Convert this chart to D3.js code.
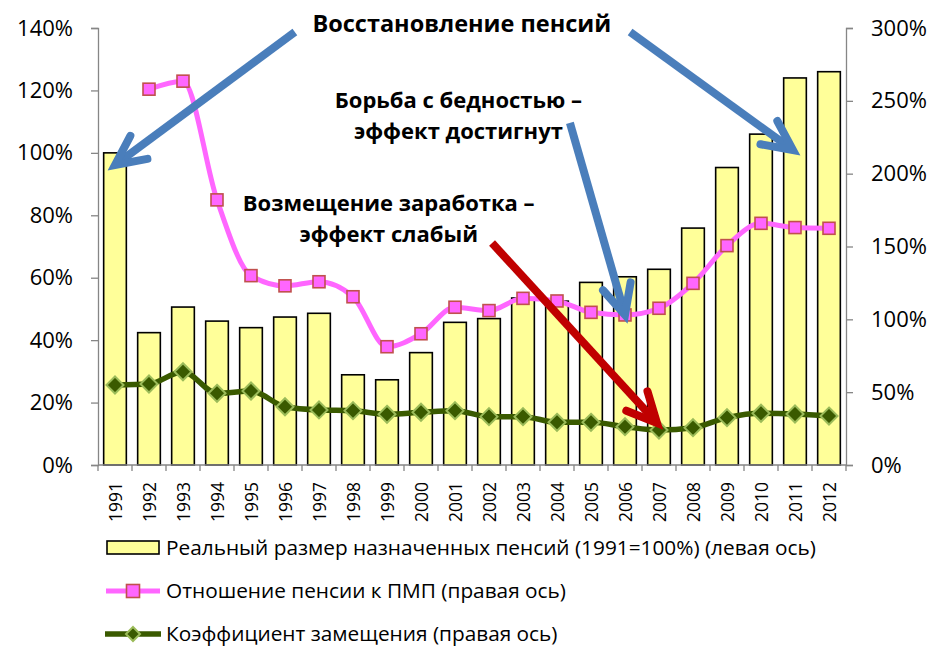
<!DOCTYPE html>
<html><head><meta charset="utf-8">
<script src="https://cdn.jsdelivr.net/npm/d3@7/dist/d3.min.js"></script>
<style>
html,body{margin:0;padding:0;background:#fff;}
svg{display:block;}
text{font-family:"Open Sans",sans-serif;fill:#000;}
</style></head>
<body>
<svg id="chart" width="934" height="647"></svg>
<script>
const years = [1991,1992,1993,1994,1995,1996,1997,1998,1999,2000,2001,2002,2003,2004,2005,2006,2007,2008,2009,2010,2011,2012];
// Реальный размер назначенных пенсий (1991=100%), left axis
const realPension = [100,42.4,50.6,46.1,44,47.4,48.6,28.9,27.3,36,45.7,46.9,53.5,52.5,58.5,60.3,62.7,75.9,95.3,106,124,126];
// Отношение пенсии к ПМП, right axis (null = no data)
const pensionToPMP = [null,258,263.5,182,130,123,125.8,115.5,81.2,90.1,108.3,106,114.4,112.6,104.8,103,107.6,124.7,150.6,165.9,163,162.5];
// Коэффициент замещения, right axis
const replacement = [54.9,55.6,64,49.2,50.8,40,37.8,37.3,34.8,36.2,37.3,33.2,33.2,29.3,29.3,26.3,24,25.6,32.5,35.5,35,33.6];
const leftTicks = [0,20,40,60,80,100,120,140];
const rightTicks = [0,50,100,150,200,250,300];
const legendLabels = [
  "Реальный размер назначенных пенсий (1991=100%) (левая ось)",
  "Отношение пенсии к ПМП (правая ось)",
  "Коэффициент замещения (правая ось)"
];
// annotations: text lines and arrows, in data units (year index, left-axis %)
const notes = [
  {lines:["Восстановление пенсий"], xi:10.2, v:138.7, size:23.5},
  {lines:["Борьба с бедностью –","эффект достигнут"], xi:10.1, v:114.3, size:22},
  {lines:["Возмещение заработка –","эффект слабый"], xi:8.05, v:81.3, size:22}
];
const arrows = [
  {from:[5.29,138.7], to:[0,96.1], color:"#4a7ebb"},
  {from:[15.15,138.7], to:[19.94,100.9], color:"#4a7ebb"},
  {from:[13.38,109.6], to:[15.0,48.1], color:"#4a7ebb"},
  {from:[11.09,71.1], to:[15.94,13.5], color:"#c00000"}
];

const svg = d3.select("#chart");
const L = 98, R = 846, T = 28, B = 465;
const x = d3.scaleBand().domain(years).range([L,R]).paddingInner(1/3).paddingOuter(1/6);
const xi = d3.scaleLinear().domain([0,1]).range([L + x.step()/2, L + x.step()*1.5]);
const yL = d3.scaleLinear().domain([0,140]).range([B,T]);
const yR = d3.scaleLinear().domain([0,300]).range([B,T]);
const axisColor = "#868686";

// bars
svg.append("g").selectAll("rect").data(years).join("rect")
  .attr("x", d=>x(d)).attr("width", x.bandwidth())
  .attr("y", (d,i)=>yL(realPension[i])).attr("height",(d,i)=>B - yL(realPension[i]))
  .attr("fill","#ffff99").attr("stroke","#000").attr("stroke-width",1.6);

// axes
const fmt = d=>d+"%";
const gl = svg.append("g").attr("transform",`translate(${L},0)`)
  .call(d3.axisLeft(yL).tickValues(leftTicks).tickFormat(fmt).tickSize(7).tickPadding(18));
const gr = svg.append("g").attr("transform",`translate(${R},0)`)
  .call(d3.axisRight(yR).tickValues(rightTicks).tickFormat(fmt).tickSize(7).tickPadding(18));
[gl,gr].forEach(g=>{
  g.select(".domain").attr("stroke",axisColor).attr("stroke-width",1.3);
  g.selectAll(".tick line").attr("stroke",axisColor).attr("stroke-width",1.3);
  g.selectAll(".tick text").attr("font-size",22).attr("font-family","Open Sans").attr("fill","#000");
});
// x axis
const gx = svg.append("g").attr("transform",`translate(0,${B})`);
gx.append("line").attr("x1",L).attr("x2",R).attr("stroke",axisColor).attr("stroke-width",1.3);
gx.selectAll("line.t").data(d3.range(years.length+1)).join("line").attr("class","t")
  .attr("x1",i=>L+i*x.step()).attr("x2",i=>L+i*x.step()).attr("y1",0).attr("y2",6)
  .attr("stroke",axisColor).attr("stroke-width",1.3);
gx.selectAll("text").data(years).join("text")
  .attr("transform",d=>`translate(${x(d)+x.bandwidth()/2+6.5},${17}) rotate(-90)`)
  .attr("text-anchor","end").attr("font-size",17.5).text(d=>d);

// lines
const curve = d3.curveMonotoneX;
const pinkPts = years.map((d,i)=>({x:x(d)+x.bandwidth()/2, y:pensionToPMP[i]})).filter(p=>p.y!=null);
const greenPts = years.map((d,i)=>({x:x(d)+x.bandwidth()/2, y:replacement[i]}));
const line = d3.line().x(p=>p.x).y(p=>yR(p.y)).curve(curve);
svg.append("path").attr("d",line(pinkPts)).attr("fill","none").attr("stroke","#ff66ff").attr("stroke-width",5).attr("stroke-linejoin","round");
svg.append("path").attr("d",line(greenPts)).attr("fill","none").attr("stroke","#3a5a00").attr("stroke-width",5.5).attr("stroke-linejoin","round");

const sq = 12, dm = 8.5;
svg.append("g").selectAll("rect").data(pinkPts).join("rect")
  .attr("x",p=>p.x-sq/2).attr("y",p=>yR(p.y)-sq/2).attr("width",sq).attr("height",sq)
  .attr("fill","#ff66ff").attr("stroke","#c0504d").attr("stroke-width",1.6);
const diamond = (cx,cy,r)=>`M${cx},${cy-r}L${cx+r},${cy}L${cx},${cy+r}L${cx-r},${cy}Z`;
svg.append("g").selectAll("path").data(greenPts).join("path")
  .attr("d",p=>diamond(p.x,yR(p.y),dm))
  .attr("fill","#3a5a00").attr("stroke","#9bbb59").attr("stroke-width",2);

// annotations text
notes.forEach(n=>{
  const t = svg.append("text").attr("text-anchor","middle").attr("font-weight","bold").attr("font-size",n.size);
  n.lines.forEach((s,k)=>{
    t.append("tspan").attr("x",xi(n.xi)).attr("y",yL(n.v)+k*31).text(s);
  });
});

// arrows
arrows.forEach(a=>{
  const x1=xi(a.from[0]), y1=yL(a.from[1]), x2=xi(a.to[0]), y2=yL(a.to[1]);
  const ang = Math.atan2(y1-y2, x1-x2), h=33, w=0.45;
  const b1=[x2+h*Math.cos(ang+w), y2+h*Math.sin(ang+w)];
  const b2=[x2+h*Math.cos(ang-w), y2+h*Math.sin(ang-w)];
  const sx = x2+3*Math.cos(ang), sy = y2+3*Math.sin(ang);
  svg.append("path").attr("d",`M${x1},${y1}L${sx},${sy}`).attr("stroke",a.color).attr("stroke-width",8).attr("fill","none");
  svg.append("path").attr("d",`M${b1[0]},${b1[1]}L${x2},${y2}L${b2[0]},${b2[1]}`)
    .attr("stroke",a.color).attr("stroke-width",8).attr("fill","none").attr("stroke-linejoin","miter").attr("stroke-linecap","round");
});

// legend
const lg = svg.append("g");
lg.append("rect").attr("x",107).attr("y",541).attr("width",52).attr("height",13)
  .attr("fill","#ffff99").attr("stroke","#000").attr("stroke-width",1.6);
lg.append("line").attr("x1",106).attr("x2",160).attr("y1",591).attr("y2",591).attr("stroke","#ff66ff").attr("stroke-width",5);
lg.append("rect").attr("x",133-6.5).attr("y",591-6.5).attr("width",13).attr("height",13)
  .attr("fill","#ff66ff").attr("stroke","#c0504d").attr("stroke-width",1.6);
lg.append("line").attr("x1",105).attr("x2",161).attr("y1",634).attr("y2",634).attr("stroke","#3a5a00").attr("stroke-width",5.5);
lg.append("path").attr("d",diamond(133,634,7)).attr("fill","#3a5a00").attr("stroke","#9bbb59").attr("stroke-width",2);
legendLabels.forEach((s,k)=>{
  lg.append("text").attr("x",166).attr("y",[555,598,641][k]).attr("font-size",20.8).text(s);
});
</script>
</body></html>
